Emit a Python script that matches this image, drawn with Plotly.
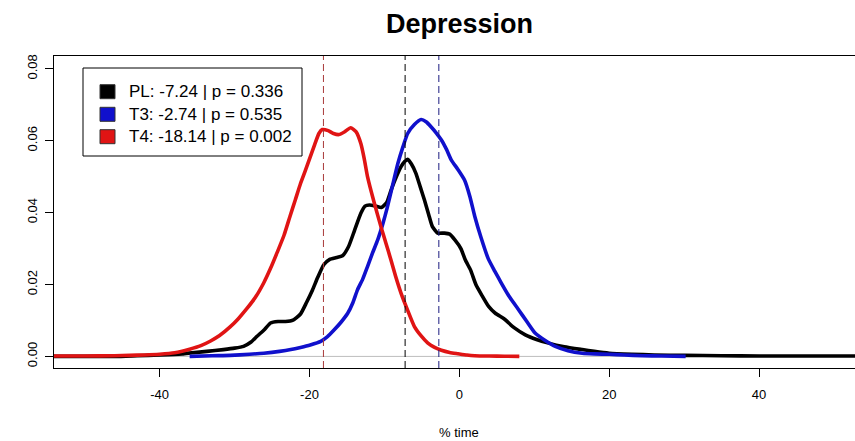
import plotly.graph_objects as go

# ---------------- data ----------------
TITLE = "Depression"
X_LABEL = "% time"
GROUPS = ["PL", "T3", "T4"]
MEANS = [-7.24, -2.74, -18.14]
PVALUES = ["0.336", "0.535", "0.002"]
COLORS = ["#000000", "#1010cc", "#e01414"]
DASH_COLORS = ["#000000", "#1c1c80", "#a83a3a"]

pl_x = [-54.2, -46, -43, -40, -37, -35.7, -33.7, -31.5, -30, -28.8, -27.8, -27, -26, -25.2,
        -24.2, -23.2, -22.2, -21.2, -20.4, -19.6, -18.9, -18.1, -17.3, -16.4, -15.6, -14.8,
        -14, -13.15, -12.6, -12.0, -11.2, -10.4, -9.7, -9.1, -8.4, -7.8, -7.3, -6.9, -6.4,
        -5.8, -5.2, -4.66, -4.1, -3.6, -2.9, -2.0, -1.3, -0.6, 0.2, 0.8, 1.5, 2.2, 3.0, 3.9,
        4.8, 6, 7.3, 8.8, 10.3, 11.9, 14, 16.4, 18, 20, 23, 26, 30, 35, 40, 46, 54.2]
pl_y = [0.0, 0.0, 0.0002, 0.0004, 0.0007, 0.0010, 0.0014, 0.0019, 0.0023, 0.0028, 0.0040,
        0.0056, 0.0075, 0.0093, 0.0097, 0.0097, 0.0101, 0.0118, 0.0150, 0.0185, 0.0220,
        0.0255, 0.0270, 0.0275, 0.0280, 0.0305, 0.0350, 0.0398, 0.0418, 0.0421, 0.0418,
        0.0414, 0.0428, 0.0463, 0.0500, 0.0527, 0.0542, 0.0548, 0.0535, 0.0509, 0.0470,
        0.0435, 0.0395, 0.0361, 0.0343, 0.0343, 0.0340, 0.0324, 0.0300, 0.0268, 0.0240,
        0.0200, 0.0170, 0.0139, 0.0120, 0.0104, 0.0080, 0.0060, 0.0047, 0.0037, 0.0027,
        0.0019, 0.0014, 0.0009, 0.0006, 0.0004, 0.0003, 0.0002, 0.0001, 0.0001, 0.0001]

t3_x = [-36, -33, -30.6, -28, -26.1, -24, -22.5, -21.2, -19.9, -18.5, -17.6, -16.7, -15.8,
        -14.9, -14.2, -13.6, -12.9, -12.26, -11.6, -10.9, -10.2, -9.6, -8.9, -8.2, -7.5,
        -6.9, -6.0, -5.1, -4.4, -3.76, -3.1, -2.4, -1.7, -1.07, -0.2, 0.7, 1.4, 2.05, 2.9,
        3.85, 4.7, 5.6, 6.7, 7.9, 9.0, 10.1, 11.4, 12.8, 14.5, 16.4, 18, 20, 22, 24.4, 27, 30.2]
t3_y = [0.0, 0.0002, 0.0003, 0.0006, 0.0009, 0.0014, 0.0019, 0.0025, 0.0032, 0.0042, 0.0055,
        0.0074, 0.0095, 0.0120, 0.0150, 0.0185, 0.0215, 0.0250, 0.0287, 0.0324, 0.0370,
        0.0416, 0.0477, 0.0537, 0.0585, 0.0620, 0.0645, 0.0659, 0.0652, 0.0638, 0.0622,
        0.0602, 0.0575, 0.0546, 0.0520, 0.0490, 0.0445, 0.0390, 0.0330, 0.0272, 0.0238,
        0.0204, 0.0165, 0.0130, 0.0097, 0.0065, 0.0045, 0.0028, 0.0016, 0.0009, 0.0007,
        0.0006, 0.0004, 0.0002, 0.0001, 0.0]

t4_x = [-54.2, -50, -46, -44, -42, -40, -38, -36, -34.5, -33.2, -32, -30.6, -29.5, -28.4,
        -27.2, -26.1, -25.2, -24.3, -23.4, -22.6, -21.9, -21.2, -20.5, -19.9, -19.3, -18.75,
        -18.3, -17.5, -16.8, -16.07, -15.3, -14.5, -13.8, -13.15, -12.7, -12.26, -11.4,
        -10.47, -9.8, -9.13, -8.5, -7.79, -6.9, -6.0, -5.1, -4.2, -3.3, -2.4, -1.3, -0.17,
        1, 2.05, 4, 6, 8]
t4_y = [0.0001, 0.0001, 0.0002, 0.0003, 0.0004, 0.0006, 0.0010, 0.0020, 0.0030, 0.0043,
        0.0058, 0.0082, 0.0105, 0.0132, 0.0165, 0.0205, 0.0245, 0.0290, 0.0337, 0.0390,
        0.0435, 0.0481, 0.0520, 0.0555, 0.0590, 0.0620, 0.0631, 0.0628, 0.0620, 0.0617,
        0.0625, 0.0636, 0.0625, 0.0592, 0.0550, 0.0500, 0.0430, 0.0361, 0.0315, 0.0268,
        0.0222, 0.0176, 0.0128, 0.0083, 0.0057, 0.0037, 0.0025, 0.0017, 0.0011, 0.00075,
        0.0004, 0.0002, 0.0001, 0.00005, 0.0]

SERIES_X = [pl_x, t3_x, t4_x]
SERIES_Y = [pl_y, t3_y, t4_y]

X_TICKS = [-40, -20, 0, 20, 40]
X_TICK_LABELS = ["-40", "-20", "0", "20", "40"]
Y_TICKS = [0.00, 0.02, 0.04, 0.06, 0.08]
Y_TICK_LABELS = ["0.00", "0.02", "0.04", "0.06", "0.08"]
ZERO_LEVEL = 0.0

# ---------------- layout helpers ----------------
W, H = 855, 441
ML, MR, MT, MB = 54, 0, 56, 73
PW, PH = W - ML - MR, H - MT - MB
X_RANGE = [-54.1, 52.8]
Y_RANGE = [-0.00322, 0.08355]
FONT = "Liberation Sans, Arial, sans-serif"


def px(xp):
    return (xp - ML) / PW


def py(yp):
    return (H - MB - yp) / PH


fig = go.Figure()
for name, xs, ys, col in zip(GROUPS, SERIES_X, SERIES_Y, COLORS):
    fig.add_trace(go.Scatter(x=xs, y=ys, mode="lines", name=name,
                             line=dict(color=col, width=3.6, shape="spline", smoothing=0.5),
                             showlegend=False))

shapes = []
# grey zero line
shapes.append(dict(type="line", xref="paper", yref="y", x0=0, x1=1,
                   y0=ZERO_LEVEL, y1=ZERO_LEVEL, line=dict(color="#bebebe", width=1),
                   layer="below"))
# dashed mean lines
for m, c in zip(MEANS, DASH_COLORS):
    shapes.append(dict(type="line", xref="x", yref="paper", x0=m, x1=m, y0=0, y1=1,
                       line=dict(color=c, width=1, dash="7px,4px"), layer="above"))

# legend box
shapes.append(dict(type="rect", xref="paper", yref="paper",
                   x0=px(83), x1=px(302), y0=py(156), y1=py(68),
                   line=dict(color="black", width=1), fillcolor="white", layer="above"))
annotations = []
row_y = [91.7, 114.3, 136.7]
for i, (g, m, p, c) in enumerate(zip(GROUPS, MEANS, PVALUES, COLORS)):
    yc = row_y[i]
    shapes.append(dict(type="rect", xref="paper", yref="paper",
                       x0=px(100), x1=px(115), y0=py(yc + 7), y1=py(yc - 7),
                       line=dict(color="#333333", width=1), fillcolor=c, layer="above"))
    annotations.append(dict(xref="paper", yref="paper", x=px(127), y=py(yc),
                            xanchor="left", yanchor="middle", showarrow=False,
                            text=f"{g}: {m:.2f} | p = {p}",
                            font=dict(family=FONT, size=17, color="black")))

# title and x label
annotations.append(dict(xref="x", yref="paper", x=0, y=py(24), xanchor="center",
                        yanchor="middle", showarrow=False, text=f"<b>{TITLE}</b>",
                        font=dict(family=FONT, size=27, color="black")))
annotations.append(dict(xref="x", yref="paper", x=0, y=py(432), xanchor="center",
                        yanchor="middle", showarrow=False, text=X_LABEL,
                        font=dict(family=FONT, size=13, color="black")))

fig.update_layout(
    width=W, height=H,
    margin=dict(l=ML, r=MR, t=MT, b=MB, pad=0),
    paper_bgcolor="white", plot_bgcolor="white",
    shapes=shapes, annotations=annotations,
    font=dict(family=FONT, size=13, color="black"),
    xaxis=dict(range=X_RANGE, tickvals=X_TICKS, ticktext=X_TICK_LABELS,
               ticks="outside", ticklen=8, tickcolor="black", tickwidth=1,
               ticklabelstandoff=6,
               showline=True, linecolor="black", linewidth=1, mirror=True,
               showgrid=False, zeroline=False, tickfont=dict(size=13)),
    yaxis=dict(range=Y_RANGE, tickvals=Y_TICKS, ticktext=Y_TICK_LABELS,
               ticks="outside", ticklen=8, tickcolor="black", tickwidth=1,
               ticklabelstandoff=3,
               showline=True, linecolor="black", linewidth=1, mirror=False,
               showgrid=False, zeroline=False, tickangle=-90, tickfont=dict(size=13)),
)

fig.write_html("out.html")
